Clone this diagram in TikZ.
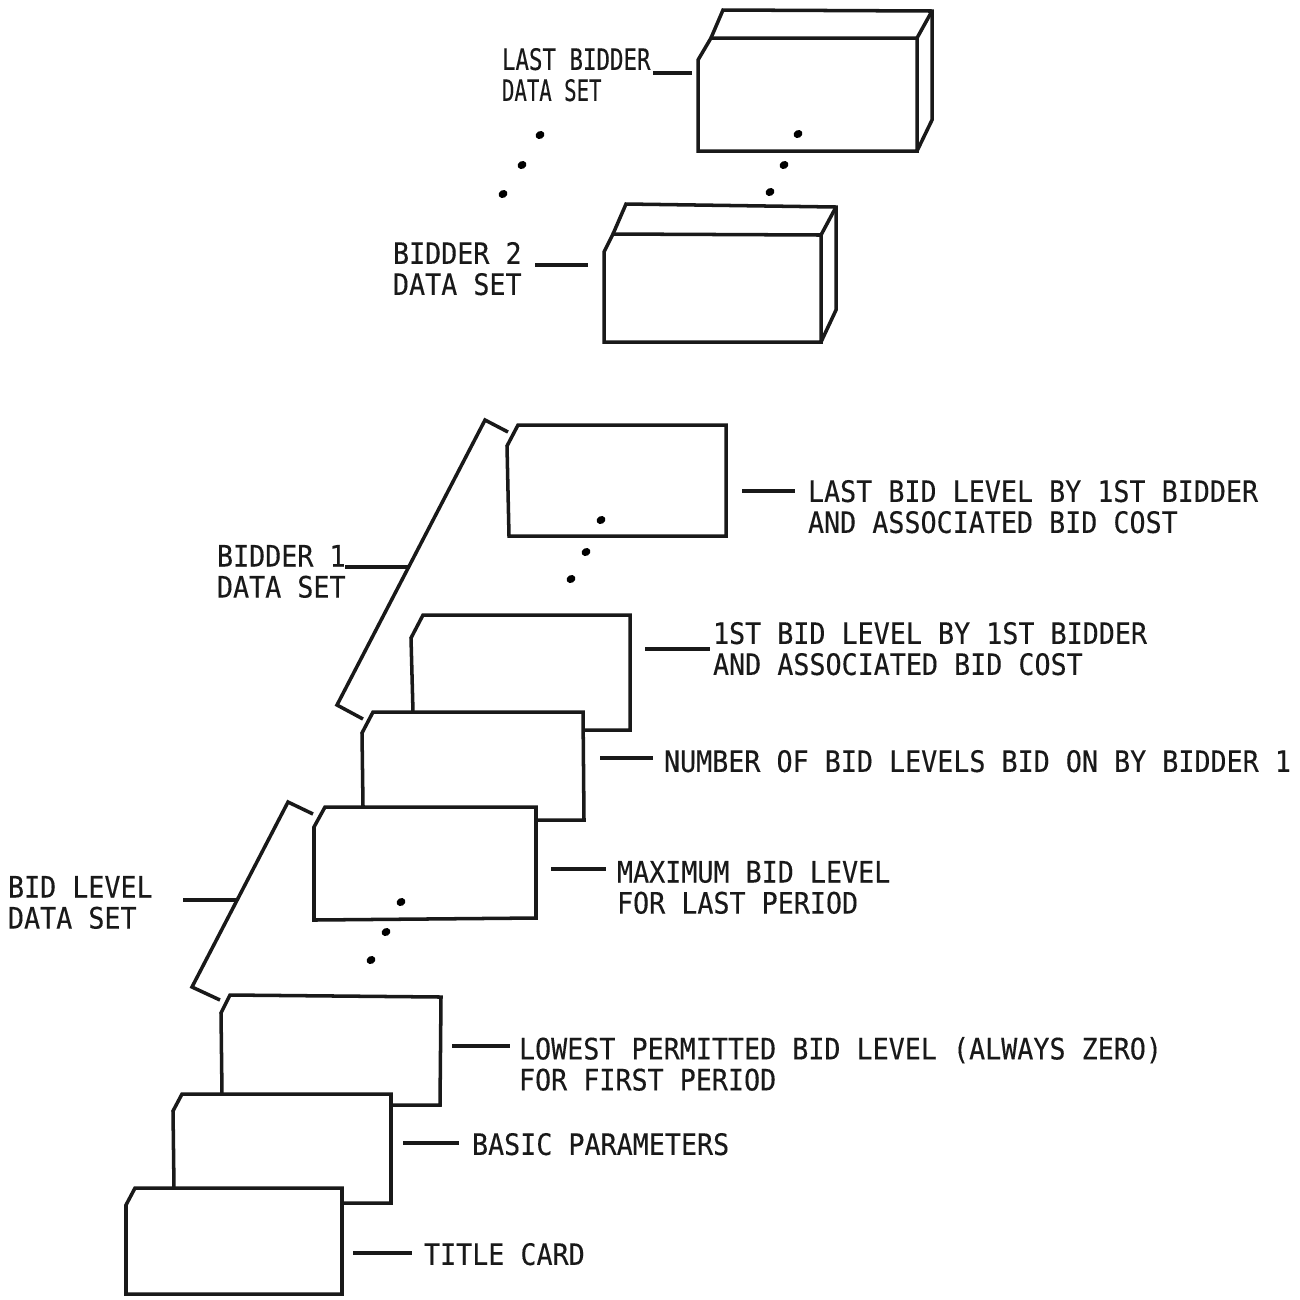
\documentclass[tikz,border=0pt]{standalone}
\usepackage{fontspec}
\newfontfamily\tw[FakeStretch=0.905,FakeBold=0.25]{DejaVu Sans Mono}
\newfontfamily\twa[FakeStretch=0.76,FakeBold=0.25]{DejaVu Sans Mono}
\newfontfamily\twb[FakeStretch=0.7,FakeBold=0.25]{DejaVu Sans Mono}
\tikzset{
  ink/.style={line width=1pt,line join=miter,black!90},
  thin ink/.style={line width=0.9pt,black!90},
  lbl/.style={anchor=north west,inner sep=0pt,outer sep=0pt,align=left,text=black!90,font=\tw\fontsize{8.39}{8.82}\selectfont},
  dotmark/.style={ellipse,fill=black,inner sep=0pt,minimum width=2.6pt,minimum height=2.2pt,rotate=30}
}
\usetikzlibrary{shapes.geometric}
\begin{document}
\begin{tikzpicture}[x=0.01cm,y=-0.01cm]
\useasboundingbox (0,0) rectangle (1300,1299);
% boxes
\draw[ink] (698,60)--(711,38)--(917,38)--(917,151)--(698,151)--cycle;
\draw[ink] (711,38)--(723,10)--(932,11)--(932,120)--(917,151);
\draw[ink] (917,38)--(932,11);
\draw[ink] (604,252)--(613,234)--(821,235)--(821,342)--(604,342)--cycle;
\draw[ink] (613,234)--(626,204)--(836,207)--(836,310)--(821,342);
\draw[ink] (821,235)--(836,207);
% cards
\draw[ink] (507,446)--(518,425)--(726,425)--(726,536)--(509,536)--cycle;
\draw[ink] (413,712)--(411,638)--(423,615)--(630,615)--(630,730)--(584,730);
\draw[ink] (363,806)--(362,733)--(373,712)--(583,712)--(584,820)--(536,820);
\draw[ink] (314,827)--(325,807)--(536,807)--(536,918)--(314,920)--cycle;
\draw[ink] (222,1094)--(221,1013)--(230,995)--(441,997)--(440,1105)--(391,1105);
\draw[ink] (174,1188)--(173,1111)--(182,1094)--(391,1094)--(391,1203)--(342,1203);
\draw[ink] (126,1205)--(135,1188)--(342,1188)--(342,1294)--(126,1294)--cycle;
% brackets
\coordinate (b1a) at (508,432); \coordinate (b1b) at (485,420);
\coordinate (b1c) at (337,705); \coordinate (b1d) at (363,719);
\draw[ink] (b1a)--(b1b)--(b1c)--(b1d);
\coordinate (b2a) at (313,814); \coordinate (b2b) at (288,802);
\coordinate (b2c) at (192,987); \coordinate (b2d) at (220,1000);
\draw[ink] (b2a)--(b2b)--(b2c)--(b2d);
% dots
\foreach \n/\px/\py in {a/540/135,b/522/165,c/503/194,d/798/134,e/784/165,f/770/192,g/601/520,h/586/552,i/571/579,j/401/902,k/386/932,l/371/960}
  \node[dotmark] (dot\n) at (\px,\py) {};
% labels
\node[lbl] (tlast) at (502,48) {\twa\fontsize{8.39}{8.82}\selectfont LAST BIDDER\\\twb\fontsize{8.39}{8.82}\selectfont DATA SET};
\node[lbl] (tb2) at (393,242) {BIDDER 2\\DATA SET};
\node[lbl] (tlastbid) at (808,480) {LAST BID LEVEL BY 1ST BIDDER\\AND ASSOCIATED BID COST};
\node[lbl] (tb1) at (217,545) {BIDDER 1\\DATA SET};
\node[lbl] (tfirst) at (713,622) {1ST BID LEVEL BY 1ST BIDDER\\AND ASSOCIATED BID COST};
\node[lbl] (tnum) at (664,750) {NUMBER OF BID LEVELS BID ON BY BIDDER 1};
\node[lbl] (tmax) at (617,861) {MAXIMUM BID LEVEL\\FOR LAST PERIOD};
\node[lbl] (tbl) at (8,876) {BID LEVEL\\DATA SET};
\node[lbl] (tlow) at (519,1037) {LOWEST PERMITTED BID LEVEL (ALWAYS ZERO)\\FOR FIRST PERIOD};
\node[lbl] (tbas) at (472,1133) {BASIC PARAMETERS};
\node[lbl] (ttit) at (424,1243) {TITLE CARD};
% leaders
\foreach \n/\xa/\xb/\yy in {a/653/692/73,b/535/588/265,c/742/795/491,d/345/408/567,e/645/710/649,f/600/653/758,g/551/606/869,h/183/237/900,i/452/510/1046,j/403/459/1143,k/353/412/1253}{
  \coordinate (la\n) at (\xa,\yy); \coordinate (lb\n) at (\xb,\yy);
  \draw[thin ink] (la\n)--(lb\n);
}
\end{tikzpicture}
\end{document}
